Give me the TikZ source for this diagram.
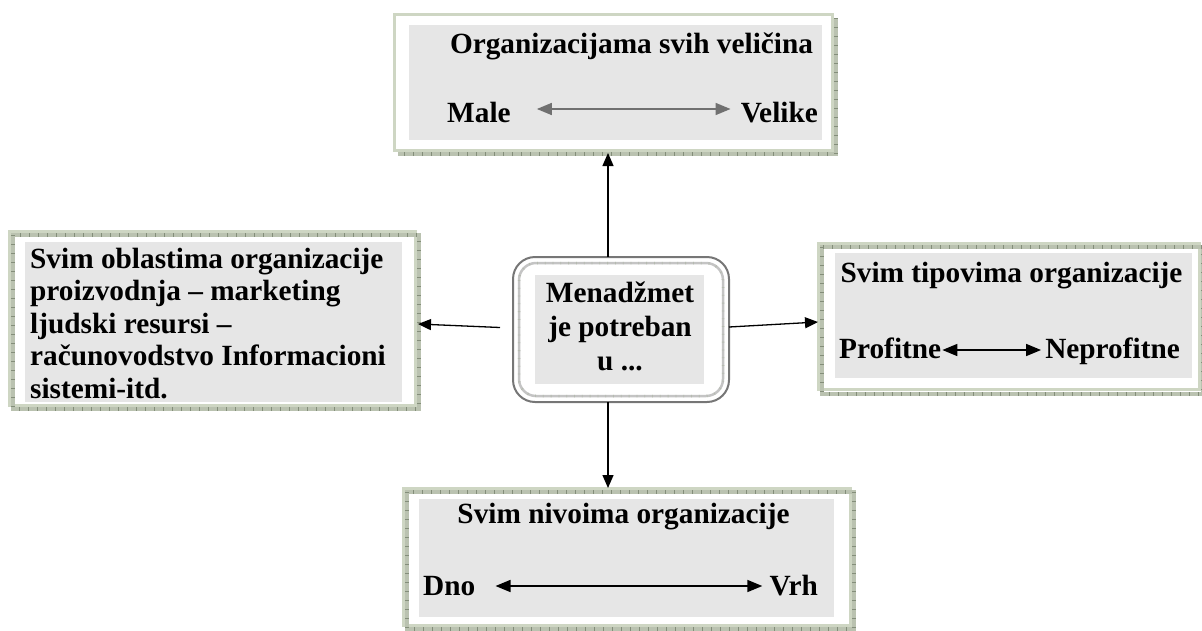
\documentclass[tikz,border=0pt]{standalone}
\usepackage{fontspec}
\setmainfont{Liberation Serif}
\usetikzlibrary{arrows.meta}
\definecolor{sage}{RGB}{206,214,195}
\definecolor{bandbase}{RGB}{186,194,176}
\definecolor{bandtick}{RGB}{132,142,122}
\definecolor{panel}{RGB}{230,230,230}
\definecolor{hubline}{RGB}{118,118,118}
\definecolor{hubinner}{RGB}{196,196,196}
\definecolor{midarrow}{RGB}{112,112,112}

\begin{document}
\begin{tikzpicture}[x=1pt,y=-1pt,
  frame/.style={draw=sage, line width=3pt, fill=white, rectangle, inner sep=0pt, outer sep=0pt},
  band/.style={draw=bandbase, line width=4pt,
    postaction={draw=bandtick, line width=4pt, dash pattern=on 1pt off 8pt}},
  panelbox/.style={fill=panel, rectangle, inner sep=0pt, outer sep=0pt},
  lbl/.style={inner sep=0pt, font=\fontsize{29.3}{34}\selectfont\bfseries},
  link/.style={line width=1.3pt, -{Triangle[length=13pt,width=11pt]}},
  span/.style={line width=1.6pt, {Triangle[length=15pt,width=12pt]}-{Triangle[length=15pt,width=12pt]}},
]
\useasboundingbox (0,0) rectangle (1202,630);

% ---------- top: sizes ----------
\node[frame, minimum width=438pt, minimum height=136pt] (topbox) at (613,82) {};
\draw[band] ([xshift=4pt,yshift=-4pt]topbox.north east) |- ([xshift=4pt,yshift=-4pt]topbox.south west);
\node[panelbox, minimum width=413pt, minimum height=115pt] (toppanel) at (615.5,82.5) {};
\node[lbl, anchor=base] (toptitle) at (631.5,53) {Organizacijama svih veličina};
\node[lbl, anchor=base west] (male) at (447,122) {Male};
\node[lbl, anchor=base east] (velike) at (818,122) {Velike};
\draw[span, color=midarrow] ([xshift=26pt,yshift=13pt]male.base east) -- ([xshift=-10pt,yshift=13pt]velike.base west);

% ---------- left: areas ----------
\node[frame, minimum width=406pt, minimum height=174pt] (leftbox) at (212,318) {};
\draw[band] ([xshift=4pt,yshift=-4pt]leftbox.north west) rectangle ([xshift=4pt,yshift=-4pt]leftbox.south east);
\node[panelbox, minimum width=377pt, minimum height=160pt] (leftpanel) at (213.5,322) {};
\node[lbl, font=\fontsize{29.3}{32.5}\selectfont\bfseries, align=left, anchor=base west] (lefttext) at (30,398)
  {Svim oblastima organizacije\\proizvodnja – marketing\\ljudski resursi –\\računovodstvo Informacioni\\sistemi-itd.};

% ---------- right: types ----------
\node[frame, minimum width=381pt, minimum height=146.5pt] (rightbox) at (1008.5,316.25) {};
\draw[band] ([xshift=4pt,yshift=-4pt]rightbox.north west) rectangle ([xshift=4pt,yshift=-4pt]rightbox.south east);
\node[panelbox, minimum width=357pt, minimum height=125pt] (rightpanel) at (1013.5,315.5) {};
\node[lbl, anchor=base] (righttitle) at (1011.5,282) {Svim tipovima organizacije};
\node[lbl, anchor=base west] (profit) at (839,358) {Profitne};
\node[lbl, anchor=base east] (nonprofit) at (1180,358) {Neprofitne};
\draw[span] ([xshift=1pt,yshift=8pt]profit.base east) -- ([xshift=-4pt,yshift=8pt]nonprofit.base west);

% ---------- bottom: levels ----------
\node[frame, minimum width=447pt, minimum height=137pt] (botbox) at (626.5,556.5) {};
\draw[band] ([xshift=4pt,yshift=-4pt]botbox.north west) rectangle ([xshift=4pt,yshift=-4pt]botbox.south east);
\node[panelbox, minimum width=415pt, minimum height=118pt] (botpanel) at (626.5,558) {};
\node[lbl, anchor=base] (bottitle) at (623.5,523) {Svim nivoima organizacije};
\node[lbl, anchor=base west] (dno) at (423,595) {Dno};
\node[lbl, anchor=base east] (vrh) at (818,595) {Vrh};
\draw[span] ([xshift=20pt,yshift=9pt]dno.base east) -- ([xshift=-7pt,yshift=9pt]vrh.base west);

% ---------- centre hub ----------
\node[draw=hubline, line width=2pt, rounded corners=22pt, fill=white, inner sep=0pt, outer sep=0pt,
  minimum width=216pt, minimum height=145pt] (hub) at (621,329.5) {};
\draw[draw=hubinner, line width=2.5pt, rounded corners=17pt,
  postaction={draw=bandtick!60, line width=2.5pt, dash pattern=on 0.8pt off 7pt}]
  ([xshift=6pt,yshift=-6pt]hub.north west) rectangle ([xshift=-6pt,yshift=6pt]hub.south east);
\node[panelbox, minimum width=169pt, minimum height=109pt] (hubpanel) at (619.5,329.5) {};
\node[lbl, align=center, anchor=base] (hubtext) at (620,370) {Menadžmet\\je potreban\\u ...};

% ---------- connectors ----------
\draw[link] ([xshift=-13pt]hub.north) -- ([xshift=-5pt,yshift=-3pt]topbox.south);
\draw[link] ([xshift=-13pt]hub.south) -- ([xshift=-18.5pt]botbox.north);
\draw[link] ([xshift=-13pt,yshift=2pt]hub.west) -- ([xshift=3pt,yshift=-6pt]leftbox.east);
\draw[link] ([yshift=2.5pt]hub.east) -- ([yshift=-5.75pt]rightbox.west);
\end{tikzpicture}
\end{document}
